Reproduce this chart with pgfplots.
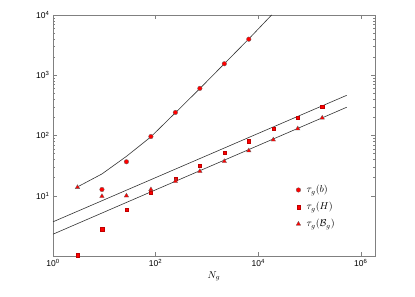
\documentclass[border=0pt]{standalone}
\usepackage{fontspec}
\setmainfont{Liberation Sans}
\usepackage{pgfplots}
\pgfplotsset{compat=1.18}
\begin{document}
\begin{tikzpicture}
\begin{axis}[
  xmode=log, ymode=log,
  scale only axis, width=322pt, height=241pt,
  xmin=1, xmax=1.9e6, ymin=1, ymax=1e4,
  axis line style={gray},
  tick align=inside,
  major tick length=4pt, minor tick length=2pt,
  every tick/.style={gray},
  xtick={1,100,10000,1000000},
  xticklabels={10\textsuperscript{0},10\textsuperscript{2},10\textsuperscript{4},10\textsuperscript{6}},
  ytick={10,100,1000,10000},
  yticklabels={10\textsuperscript{1},10\textsuperscript{2},10\textsuperscript{3},10\textsuperscript{4}},
  xminorticks=false,
  tick label style={font=\fontsize{8.5}{9}\selectfont},
  xlabel={$N_g$},
  xlabel style={font=\fontsize{10}{11}\selectfont, yshift=2pt},
  clip=false,
  legend cell align=left,
  legend style={at={(rel axis cs:0.745,0.31)}, anchor=north west, draw=none, fill=none,
    font=\fontsize{10}{11}\selectfont, row sep=4pt,
    /tikz/every odd column/.append style={column sep=4pt}},
]
\path (rel axis cs:-0.1646,-0.166) rectangle (rel axis cs:1.124,1.062);
\addplot[black!80, line width=0.6pt, forget plot] coordinates {(3,14)(9,23)(27,45)(81,95)(243,238)(729,600)(2187,1550)(6561,4000)(18300,10000)};
\addplot[black!80, line width=0.6pt, forget plot] coordinates {(1,3.69)(531441,464)};
\addplot[black!80, line width=0.6pt, forget plot] coordinates {(1,2.30)(531441,294)};
\addplot[red, only marks, mark=*, mark size=2.3pt, mark options={solid, fill=red, draw=black!60, line width=0.3pt}] coordinates {
(9,12.7)(27,36.6)(81,96)(243,241)(729,604)(2187,1550)(6561,3960)};
\addlegendentry{$\tau_g(b)$}
\addplot[red, only marks, mark=square*, mark size=1.65pt, mark options={solid, fill=red, draw=red!75!black, line width=0.2pt}] coordinates {
(3,1.03)(9,2.8)(27,5.9)(81,11.2)(243,19.3)(729,31.7)(2187,51.7)(6561,81)(19683,129)(59049,196)(177147,298)};
\addlegendentry{$\tau_g(H)$}
\addplot[red, only marks, mark=triangle*, mark size=2.6pt, mark options={solid, fill=red, draw=black!60, line width=0.3pt}] coordinates {
(3,13.8)(9,9.8)(27,10.0)(81,12.7)(243,17.4)(729,25.5)(2187,37.3)(6561,56)(19683,85)(59049,130)(177147,196)};
\addlegendentry{$\tau_g(\mathcal{B}_g)$}
\end{axis}
\end{tikzpicture}
\end{document}
